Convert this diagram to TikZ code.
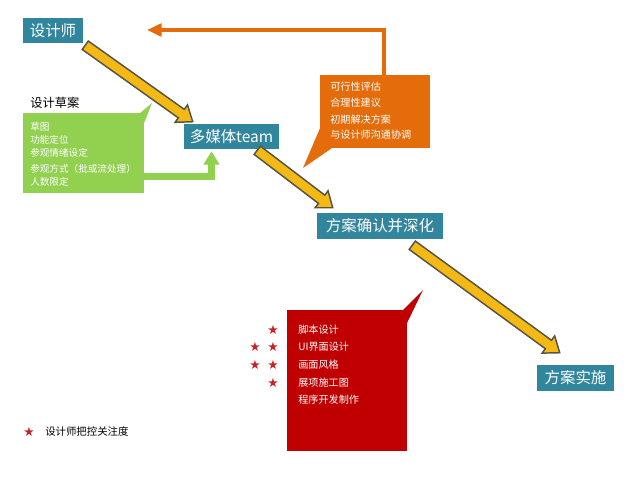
\documentclass[tikz,border=0pt]{standalone}
\usepackage{fontspec}
\setmainfont{Noto Sans CJK SC}
\newfontfamily\symfont{DejaVu Sans}
\usetikzlibrary{calc,arrows.meta}
\definecolor{tealbox}{RGB}{49,133,156}
\definecolor{yarrfill}{RGB}{244,185,20}
\definecolor{yarrline}{RGB}{85,85,70}
\definecolor{greenbox}{RGB}{146,208,80}
\definecolor{orangebox}{RGB}{228,108,10}
\definecolor{redbox}{RGB}{192,0,0}
\definecolor{starred}{RGB}{200,35,35}
\newcommand\blockarr[2]{%
  \coordinate (bh) at ($(#2)!10.5pt!(#1)$);
  \draw[yarr] ($(#1)!3.9pt!90:(#2)$) -- ($(bh)!3.9pt!90:(#2)$) -- ($(bh)!8pt!90:(#2)$) -- (#2)
    -- ($(bh)!8pt!-90:(#2)$) -- ($(bh)!3.9pt!-90:(#2)$) -- ($(#1)!3.9pt!-90:(#2)$) -- cycle;}
\begin{document}
\begin{tikzpicture}[x=0.75pt,y=-0.75pt,
  tbox/.style={fill=tealbox,text=white,inner sep=0pt,font=\fontsize{11.6pt}{13pt}\selectfont},
  yarr/.style={fill=yarrfill,draw=yarrline,line width=1.1pt,line join=miter},
  smalltext/.style={text=white,inner sep=0pt,anchor=west},
  startext/.style={text=starred,inner sep=0pt,font=\symfont\fontsize{9.5pt}{10pt}\selectfont},
  oline/.style={draw=orangebox,line width=3.6pt,-{Triangle[length=11pt,width=9.5pt]}},
  gline/.style={draw=greenbox,line width=5pt,-{Triangle[length=10pt,width=11.5pt]}}]
\fill[white] (0,0) rectangle (640,480);
\path[use as bounding box] (0,0) rectangle (640,480);

% teal boxes
\node[tbox,minimum width=45pt,minimum height=18.75pt] (dsg) at (53,30.5) {设计师};
\node[tbox,minimum width=71.25pt,minimum height=18.75pt] (mm) at (231.5,136.5) {多媒体team};
\node[tbox,minimum width=94.5pt,minimum height=19.5pt] (fa) at (380,226) {方案确认并深化};
\node[tbox,minimum width=57.75pt,minimum height=19.5pt] (ss) at (575.5,378) {方案实施};

% green callout
\node[fill=greenbox,inner sep=0pt,minimum width=90.75pt,minimum height=60pt,anchor=north west] (gbox) at (23,113) {};
\coordinate (gtip) at (152,103);
\fill[greenbox] ($(gbox.north east)+(-5,0.5)$) -- (gtip) -- ($(gbox.north east)+(0,9)$) -- ($(gbox.north east)+(-5,9)$) -- cycle;
\node[anchor=west,inner sep=0pt,font=\fontsize{9.2pt}{11pt}\selectfont] (cap) at (30,103) {设计草案};
\foreach \t/\y [count=\i] in {草图/127,功能定位/140,参观情绪设定/153,参观方式（批或流处理）/169,人数限定/182}
  \node[smalltext,font=\fontsize{7.2pt}{8pt}\selectfont] (g\i) at (30,\y) {\t};

% orange callout
\node[fill=orangebox,inner sep=0pt,minimum width=82.5pt,minimum height=54.75pt,anchor=north west] (obox) at (320,75) {};
\coordinate (otip) at (303,168);
\fill[orangebox] ($(obox.north west)+(0.5,52)$) -- (otip) -- ($(obox.south west)+(12,-0.5)$) -- ($(obox.south west)+(0.5,-0.5)$) -- cycle;
\foreach \t/\y [count=\i] in {可行性评估/87,合理性建议/103,初期解决方案/120,与设计师沟通协调/135}
  \node[smalltext,font=\fontsize{7.6pt}{8pt}\selectfont] (o\i) at (330,\y) {\t};

% red callout
\node[fill=redbox,inner sep=0pt,minimum width=90pt,minimum height=105.75pt,anchor=north west] (rbox) at (287,310) {};
\coordinate (rtip) at (423,290);
\fill[redbox] ($(rbox.north east)+(-5,0.5)$) -- (rtip) -- ($(rbox.north east)+(-0.5,13)$) -- ($(rbox.north east)+(-5,13)$) -- cycle;
\foreach \t/\y [count=\i] in {脚本设计/330,UI界面设计/347,画面风格/365,展项施工图/383,程序开发制作/400}
  \node[smalltext,font=\fontsize{7.6pt}{8pt}\selectfont] (r\i) at (298,\y) {\t};

% stars
\node[startext] (s1) at (273,330) {★};
\node[startext] (s2) at (273,347) {★};
\node[startext] (s3) at (255,347) {★};
\node[startext] (s4) at (273,365) {★};
\node[startext] (s5) at (255,365) {★};
\node[startext] (s6) at (273,383) {★};
\node[startext] (s7) at (29,432) {★};
\node[anchor=west,inner sep=0pt,font=\fontsize{7.8pt}{9pt}\selectfont] (leg) at (45,432) {设计师把控关注度};

% yellow block arrows
\coordinate (a1s) at ($(dsg.south east)+(2,2)$);
\coordinate (a1e) at ($(mm.north west)+(9,-2)$);
\blockarr{a1s}{a1e}
\coordinate (a2s) at ($(mm.south east)+(-22,1)$);
\coordinate (a2e) at ($(fa.north west)+(16,-5)$);
\blockarr{a2s}{a2e}
\coordinate (a3s) at ($(fa.south east)+(-31,6)$);
\coordinate (a3e) at ($(ss.north west)+(23,-12)$);
\blockarr{a3s}{a3e}

% orange connector
\coordinate (oend) at (147,30);
\draw[oline] ($(obox.north west)+(64,0)$) |- (oend);

% green connector
\draw[gline] ($(gbox.south east)+(-1,-17)$) -| ($(mm.south)+(-20,2)$);
\end{tikzpicture}
\end{document}
